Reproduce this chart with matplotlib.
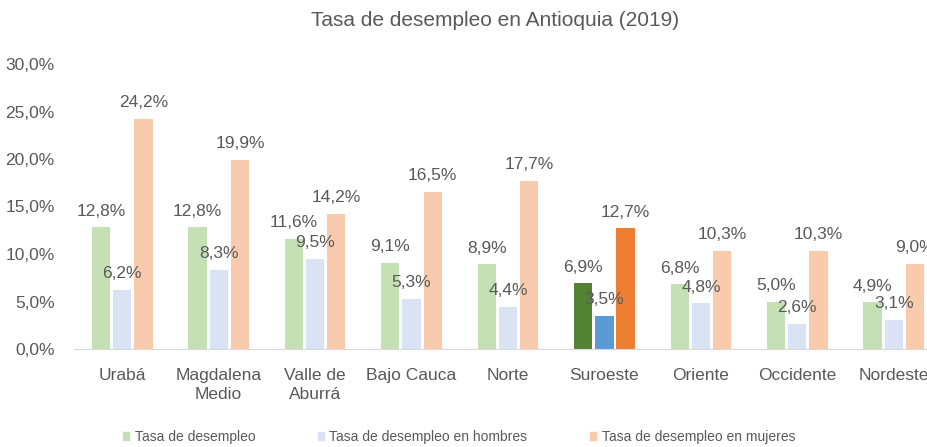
import matplotlib
matplotlib.use("Agg")
import matplotlib.pyplot as plt
from matplotlib import font_manager as fm
import numpy as np

names = {f.name for f in fm.fontManager.ttflist}
fam = "Liberation Sans Narrow" if "Liberation Sans Narrow" in names else "Liberation Sans"
plt.rcParams['font.family'] = [fam, 'DejaVu Sans']

categories = ["Urabá", "Magdalena\nMedio", "Valle de\nAburrá", "Bajo Cauca", "Norte",
              "Suroeste", "Oriente", "Occidente", "Nordeste"]
total = [12.8, 12.8, 11.6, 9.1, 8.9, 6.9, 6.8, 5.0, 4.9]
hombres = [6.2, 8.3, 9.5, 5.3, 4.4, 3.5, 4.8, 2.6, 3.1]
mujeres = [24.2, 19.9, 14.2, 16.5, 17.7, 12.7, 10.3, 10.3, 9.0]
series_names = ["Tasa de desempleo", "Tasa de desempleo en hombres", "Tasa de desempleo en mujeres"]
highlight = "Suroeste"

light = ["#c5e0b4", "#dae3f3", "#f8cbad"]
dark = ["#548235", "#5b9bd5", "#ed7d31"]
txt = "#595959"

fig = plt.figure(figsize=(9.28, 4.47), dpi=100)
ax = fig.add_axes([74/928, 1-349/447, 868/928, (349-64)/447])

x = np.arange(len(categories))
offs = [-0.22, 0.0, 0.22]
w = 0.19
for k, vals in enumerate([total, hombres, mujeres]):
    cols = [dark[k] if c.replace("\n", " ") == highlight else light[k] for c in categories]
    bars = ax.bar(x + offs[k], vals, w, color=cols, label=series_names[k], zorder=2)
    for b, v in zip(bars, vals):
        ax.annotate(f"{v:.1f}%".replace(".", ","), (b.get_x() + b.get_width()/2, v),
                    xytext=(0, 8.5), textcoords="offset points", ha="center", va="baseline",
                    fontsize=12.5, color=txt)

ax.set_xlim(-0.5, len(categories) - 0.5)
ax.set_ylim(0, 30)
ax.set_yticks(np.arange(0, 31, 5))
ax.set_yticklabels([f"{t:.1f}%".replace(".", ",") for t in np.arange(0, 31, 5)])
ax.set_xticks(x)
ax.set_xticklabels(categories, linespacing=1.3)
ax.tick_params(length=0, labelsize=12.5, labelcolor=txt)
ax.tick_params(axis='y', pad=14)
ax.tick_params(axis='x', pad=14)
for s in ["top", "right", "left"]:
    ax.spines[s].set_visible(False)
ax.spines["bottom"].set_color("#d9d9d9")

fig.text(495/928, 1-20/447, "Tasa de desempleo en Antioquia (2019)", ha="center", va="center",
         fontsize=15, color=txt)

handles = [plt.Rectangle((0, 0), 1, 1, color=c) for c in light]
fig.legend(handles, series_names, loc="center", bbox_to_anchor=(459/928, 1-437/447), ncol=3,
           frameon=False, fontsize=10, labelcolor=txt, handlelength=0.45, handleheight=0.45,
           handletextpad=0.4, columnspacing=4.5)

fig.savefig("out.png", dpi=100)
